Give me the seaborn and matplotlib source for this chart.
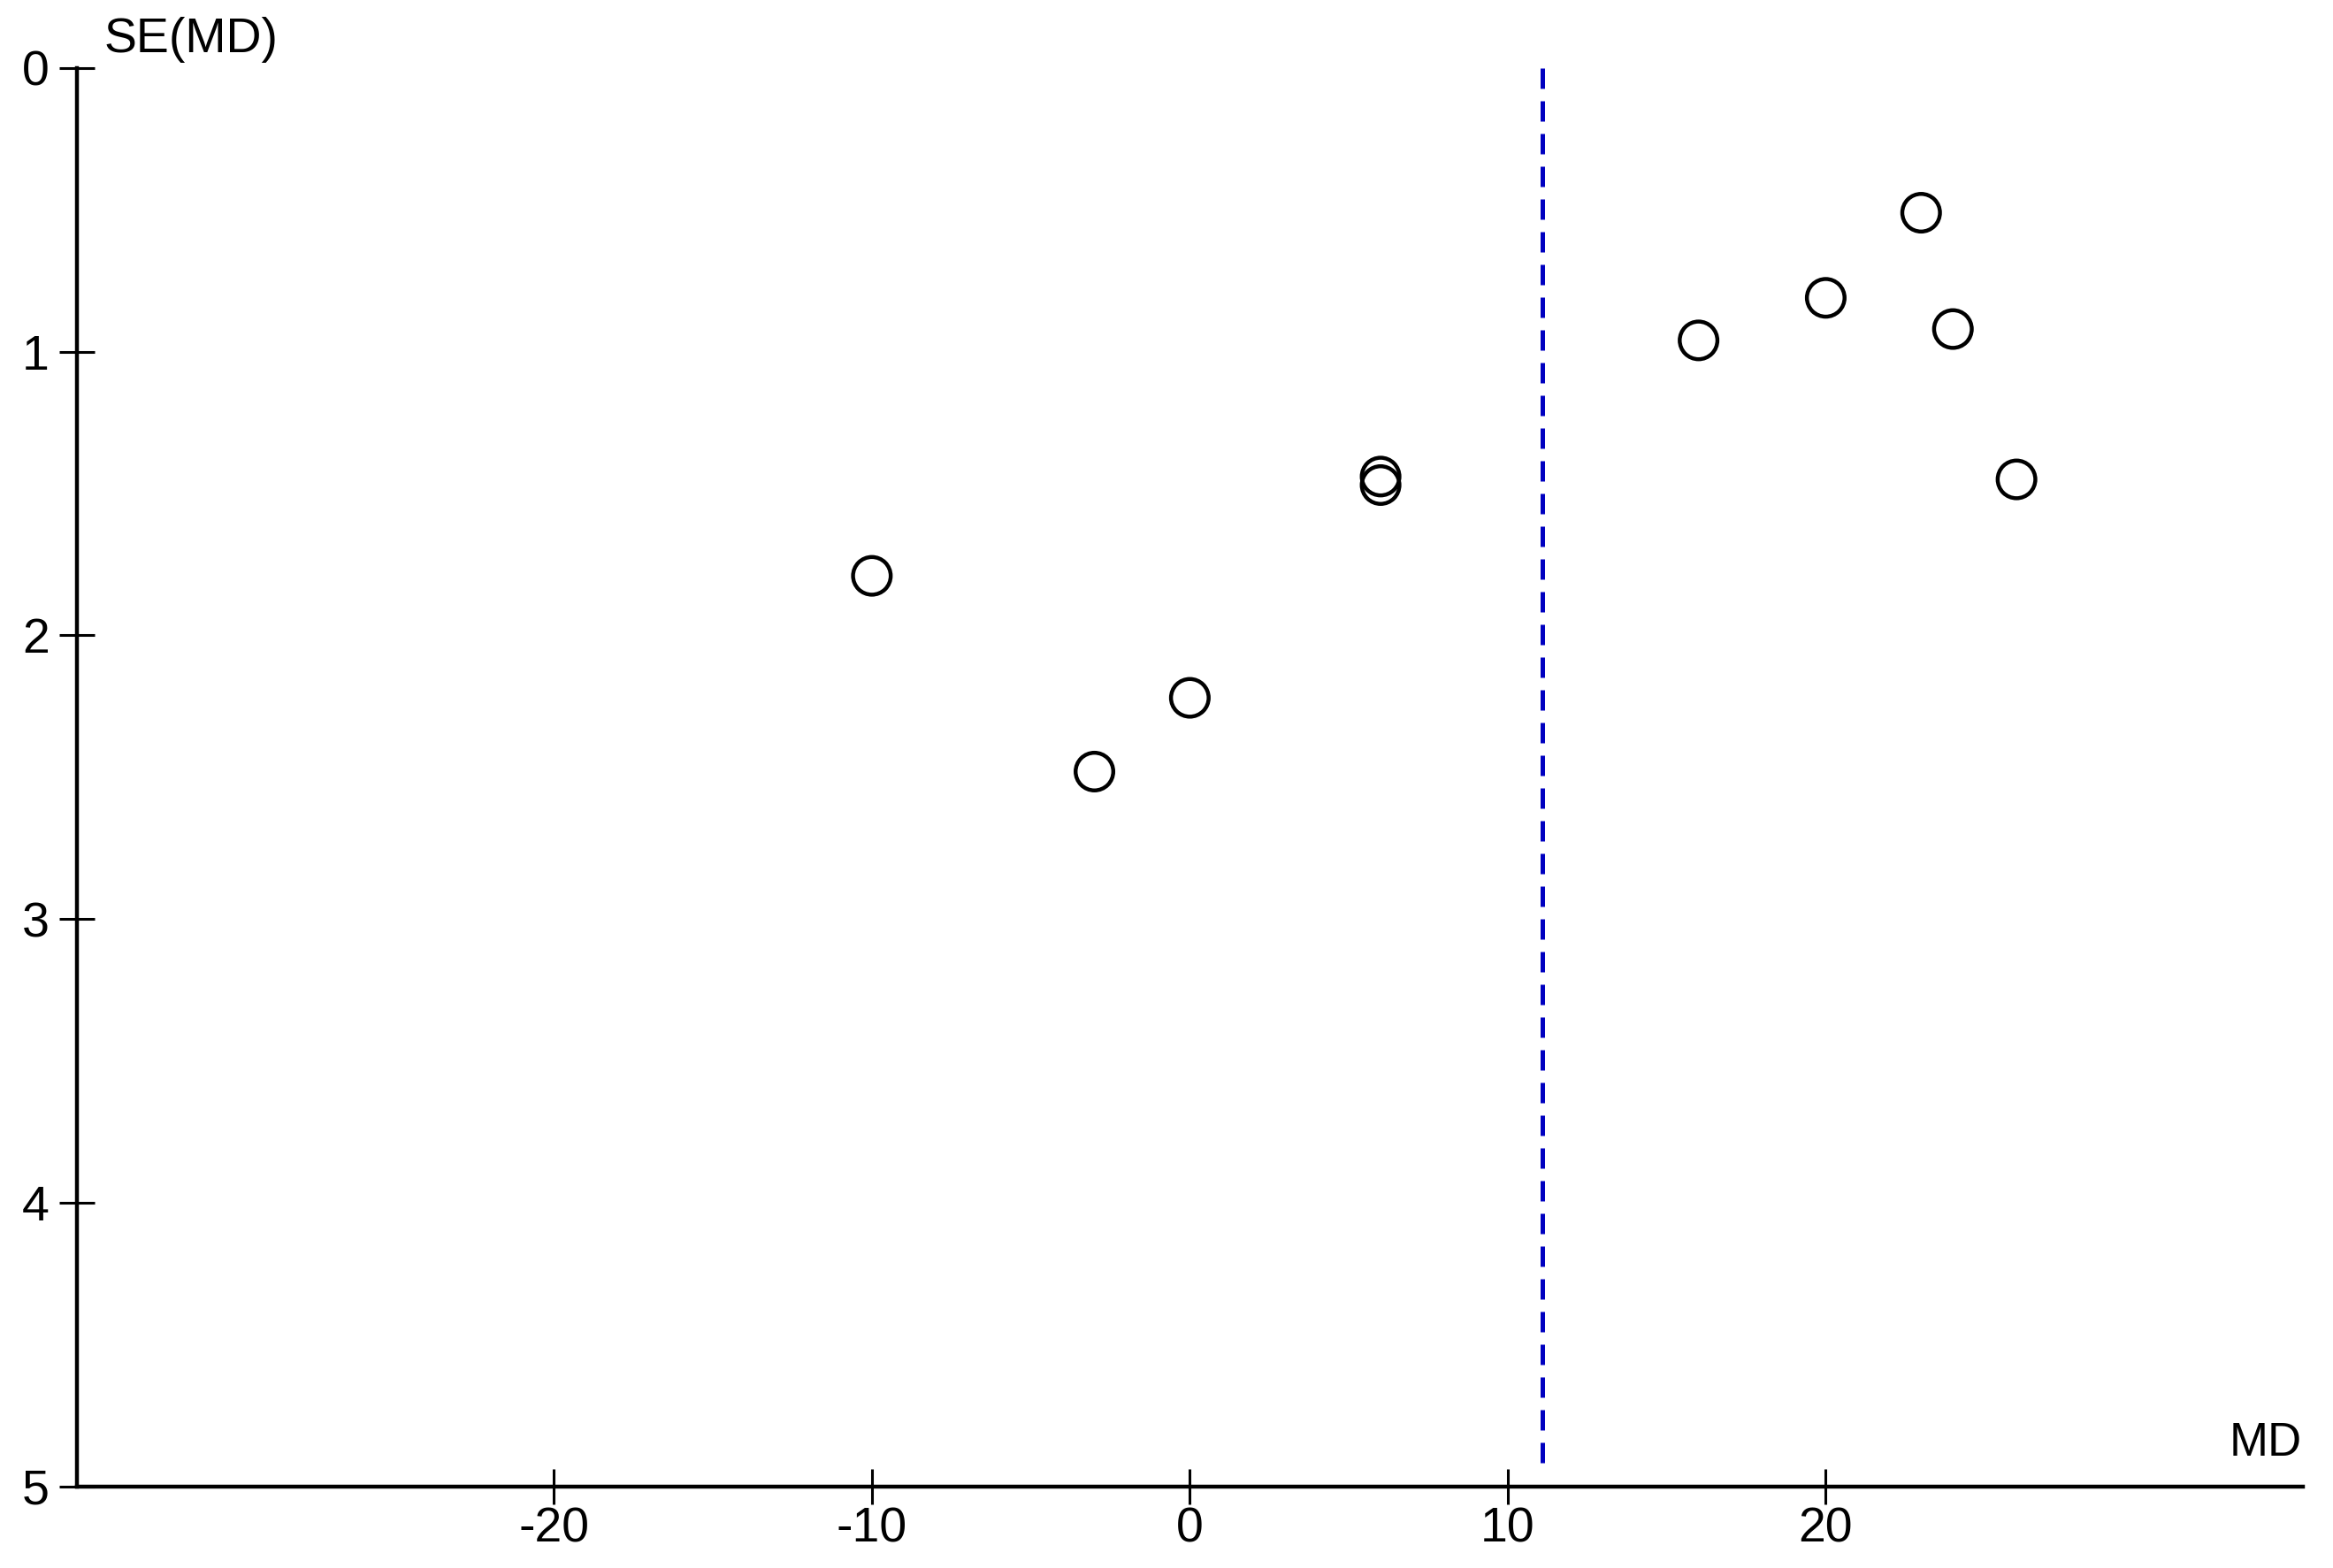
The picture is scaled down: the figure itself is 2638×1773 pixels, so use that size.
import numpy as np
import pandas as pd
import matplotlib
matplotlib.use("Agg")
import matplotlib.pyplot as plt
import seaborn as sns

# funnel plot values
md_values = [-10, -3, 0, 6, 6, 16, 20, 23, 24, 26]
se_values = [1.79, 2.48, 2.22, 1.44, 1.47, 0.96, 0.81, 0.51, 0.92, 1.45]
pooled_md = 11.1

x_ticks = [-20, -10, 0, 10, 20]
y_ticks = [0, 1, 2, 3, 4, 5]

sns.set_style("white")
plt.rcParams["font.family"] = ["Liberation Sans", "DejaVu Sans"]
plt.rcParams["axes.unicode_minus"] = False
plt.rcParams["text.color"] = "black"

data = pd.DataFrame({"MD": md_values, "SE": se_values})

fig = plt.figure(figsize=(13.19, 8.865), dpi=200)
ax = fig.add_axes([0.033, 0.052, 0.954, 0.9046])

sns.scatterplot(data=data, x="MD", y="SE", marker="o", s=235,
                facecolor="none", edgecolor="black", linewidth=1.6, ax=ax,
                zorder=3)

# pooled estimate
ax.vlines(pooled_md, 0, 4.93, colors="#0000c0", linewidth=1.8,
          linestyles=(0, (4.6, 2.8)), zorder=2)

ax.set_xlim(-35, 35)
ax.set_ylim(5, 0)
ax.set_xticks(x_ticks)
ax.set_yticks(y_ticks)
ax.set_xlabel("")
ax.set_ylabel("")

for side in ["top", "right"]:
    ax.spines[side].set_visible(False)
for side in ["left", "bottom"]:
    ax.spines[side].set_linewidth(1.6)
    ax.spines[side].set_color("black")

ax.tick_params(axis="both", direction="inout", length=14.4, width=1.1,
               colors="black", labelsize=20, bottom=True, left=True)
ax.tick_params(axis="x", pad=1)
ax.tick_params(axis="y", pad=4)

ax.text(0.012, 1.004, "SE(MD)", transform=ax.transAxes, fontsize=20,
        ha="left", va="bottom", color="black")
ax.text(0.9995, 0.015, "MD", transform=ax.transAxes, fontsize=19,
        ha="right", va="bottom", color="black")

fig.savefig("out.png", dpi=200, facecolor="white")
